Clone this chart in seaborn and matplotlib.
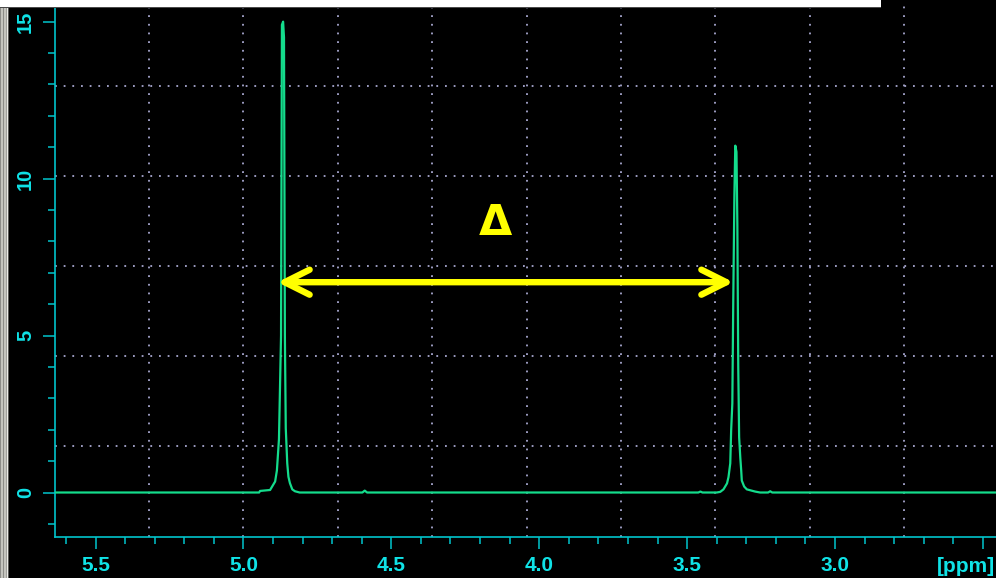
import matplotlib
matplotlib.use("Agg")
import matplotlib.pyplot as plt
import seaborn as sns
import pandas as pd
from matplotlib.patches import Rectangle

# 1H spectrum trace: chemical shift (ppm) and intensity
ppm = [5.640, 4.947, 4.944, 4.910, 4.893, 4.887, 4.880, 4.873, 4.870, 4.866,
       4.863, 4.860, 4.857, 4.852, 4.848, 4.843, 4.835, 4.826, 4.810,
       4.598, 4.590, 4.582,
       3.462, 3.455, 3.448,
       3.400, 3.388, 3.377, 3.365, 3.360, 3.354, 3.351, 3.347, 3.344, 3.340,
       3.337, 3.333, 3.330, 3.327, 3.324, 3.320, 3.317, 3.315, 3.307, 3.298,
       3.270, 3.253,
       3.226, 3.219, 3.212,
       2.440]
intensity = [0.00, 0.00, 0.05, 0.08, 0.35, 0.70, 1.70, 5.00, 14.90, 15.00,
             14.50, 5.00, 2.05, 0.93, 0.50, 0.30, 0.10, 0.04, 0.00,
             0.00, 0.06, 0.00,
             0.00, 0.03, 0.00,
             0.00, 0.02, 0.10, 0.29, 0.49, 0.93, 1.98, 2.84, 6.00, 9.50,
             11.05, 10.85, 8.50, 4.00, 1.76, 1.10, 0.70, 0.38, 0.19, 0.10,
             0.03, 0.00,
             0.00, 0.04, 0.00,
             0.00]

x_ticks = [5.5, 5.0, 4.5, 4.0, 3.5, 3.0, 2.5]
x_tick_labels = ["5.5", "5.0", "4.5", "4.0", "3.5", "3.0", ""]
y_ticks = [0, 5, 10, 15]
y_tick_labels = ["0", "5", "10", "15"]

# separation marker between the two signals
delta_left, delta_right, delta_level = 4.885, 3.343, 6.70
delta_label = "Δ"

df = pd.DataFrame({"ppm": ppm, "intensity": intensity})

sns.set_theme(style="ticks", rc={"axes.facecolor": "black",
                                 "figure.facecolor": "black"})
plt.rcParams["font.family"] = ["Liberation Sans", "DejaVu Sans"]
plt.rcParams["font.weight"] = "bold"

W, H = 996, 578
AX_L, AX_R, AX_T, AX_B = 54.5, 998.5, -4.7, 536.7
CYAN = "#00c4cc"
CYAN_TXT = "#10e2e6"
GREEN = "#14dc8c"
GRID = "#a8a8d0"
YELLOW = "#ffff00"

fig = plt.figure(figsize=(W / 100, H / 100), dpi=100)
ax = fig.add_axes([AX_L / W, (H - AX_B) / H, (AX_R - AX_L) / W, (AX_B - AX_T) / H])
ax.set_facecolor("black")

# dotted window grid: 10 columns, 6 rows
for k in range(1, 10):
    ax.plot([k / 10, k / 10], [0, 1], transform=ax.transAxes, color=GRID,
            lw=1.3, ls=(0, (1, 3.8)), zorder=1)
for k in range(1, 6):
    ax.plot([0, 1], [k / 6, k / 6], transform=ax.transAxes, color=GRID,
            lw=1.3, ls=(0, (1, 3.8)), zorder=1)

sns.lineplot(data=df, x="ppm", y="intensity", ax=ax, color=GREEN, lw=1.6,
             estimator=None, sort=False, zorder=3)

ax.set_xlim(5.639, 2.447)
ax.set_ylim(-1.408, 15.84)
ax.set_xlabel("")
ax.set_ylabel("")

ax.set_xticks(x_ticks, labels=x_tick_labels)
ax.set_xticks([round(5.6 - 0.1 * i, 1) for i in range(32)], minor=True)
ax.set_yticks(y_ticks, labels=y_tick_labels)
ax.set_yticks(list(range(-1, 16)), minor=True)

for side in ("top", "right"):
    ax.spines[side].set_visible(False)
for side in ("left", "bottom"):
    ax.spines[side].set_color(CYAN)
    ax.spines[side].set_linewidth(1.2)

ax.tick_params(which="major", length=8.6, width=1.1, color=CYAN,
               labelcolor=CYAN_TXT, direction="out", pad=5.5)
ax.tick_params(which="minor", length=5.0, width=1.1, color=CYAN, direction="out")
ax.tick_params(axis="x", labelsize=15)
ax.tick_params(axis="y", labelsize=14.5, labelrotation=90)
for lbl in ax.get_yticklabels() + ax.get_xticklabels():
    lbl.set_fontweight("bold")
for lbl in ax.get_yticklabels():
    lbl.set_va("center")

ax.annotate("", xy=(delta_left, delta_level), xytext=(delta_right, delta_level),
            arrowprops=dict(arrowstyle="<->,head_length=1.5,head_width=0.75",
                            color=YELLOW, lw=4.6, shrinkA=0, shrinkB=0,
                            capstyle="round", joinstyle="round"),
            zorder=5)
ax.text(4.149, 8.20, delta_label, color=YELLOW, fontsize=31,
        fontweight="bold", family="DejaVu Sans", ha="center", va="baseline",
        zorder=5)

fig.text(966 / W, 1 - 566 / H, "[ppm]", color=CYAN_TXT, fontsize=15,
         fontweight="bold", ha="center", va="center")

# window frame pieces: title strip on top, border on the left
def px_rect(x0, y0, x1, y1, color, z=20):
    fig.add_artist(Rectangle((x0 / W, 1 - y1 / H), (x1 - x0) / W, (y1 - y0) / H,
                             transform=fig.transFigure, facecolor=color,
                             edgecolor="none", zorder=z))

px_rect(0, 0, 881, 7, "white")
px_rect(0, 7, 881, 8, "#4a4a4a")
px_rect(0, 8, 9, H, "#c4c4be")
px_rect(0, 8, 1, H, "#8c8c88", 21)
px_rect(3, 8, 4, H, "#8c8c88", 21)
px_rect(6, 8, 7, H, "#a0a09c", 21)
px_rect(7, 8, 8, H, "#ececE8", 21)
px_rect(8.3, 8, 9.2, H, "#5a5a58", 21)

fig.savefig("out.png", dpi=100, facecolor="black")
